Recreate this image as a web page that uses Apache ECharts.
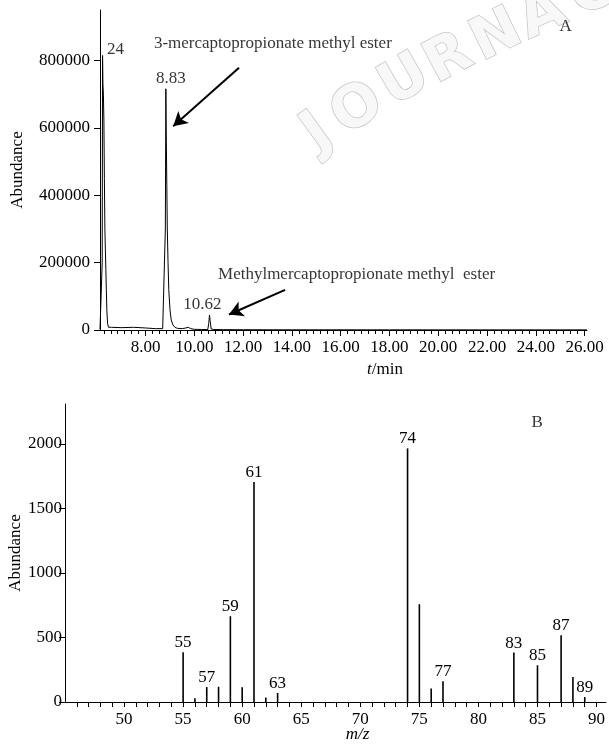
<!DOCTYPE html>
<html>
<head>
<meta charset="utf-8">
<script src="https://cdn.jsdelivr.net/npm/echarts@6/dist/echarts.min.js"></script>
<style>
html, body { margin: 0; padding: 0; background: #fff; }
#main { width: 609px; height: 746px; }
</style>
</head>
<body>
<div id="main"></div>
<script>
// chromatogram (A): retention time / abundance
var rtTime = [6.13, 6.20, 6.22, 6.235, 6.25, 6.27, 6.29, 6.31, 6.33, 6.35, 6.37, 6.39, 6.41, 6.44, 6.48,
	6.6, 7.0, 7.5, 8.0, 8.4, 8.7, 8.78, 8.81, 8.83, 8.85, 8.87, 8.89, 8.92, 8.95, 9.0, 9.05, 9.12, 9.2, 9.3,
	9.5, 9.65, 9.75, 9.85, 10.0, 10.3, 10.55, 10.59, 10.62, 10.65, 10.69, 10.8, 11.2, 12, 14, 18, 22, 26.1];
var rtAbund = [2000, 5000, 200000, 815000, 730000, 700000, 620000, 450000, 300000, 240000, 180000, 120000, 60000, 20000, 8000,
	8000, 7000, 8000, 6000, 4000, 4000, 8000, 300000, 716000, 560000, 430000, 300000, 200000, 120000, 60000, 30000, 15000, 8000, 5000,
	4000, 6000, 8000, 4000, 2000, 1500, 1500, 20000, 44600, 25000, 3000, 1500, 1000, 800, 600, 500, 400, 400];

// mass spectrum (B)
var mzValues = [55, 56, 57, 58, 59, 60, 61, 62, 63, 74, 75, 76, 77, 83, 85, 87, 88, 89];
var mzAbund = [385, 30, 116, 118, 665, 115, 1705, 35, 70, 1966, 758, 104, 160, 383, 285, 518, 194, 39];
var mzLabeled = [55, 57, 59, 61, 63, 74, 77, 83, 85, 87, 89];

// tick labels
var rtTicks = [8, 10, 12, 14, 16, 18, 20, 22, 24, 26];
var abTicksA = [0, 200000, 400000, 600000, 800000];
var mzTicks = [50, 55, 60, 65, 70, 75, 80, 85, 90];
var abTicksB = [0, 500, 1000, 1500, 2000];

var font = 'Liberation Serif';
var ink = '#000';

var rtMinor = [];
for (var k = 1; k < 7; k++) rtMinor.push(8 - k * 2 / 7);
rtTicks.slice(0, -1).forEach(function (t) {
	for (var k = 1; k < 7; k++) rtMinor.push(t + k * 2 / 7);
});
rtMinor = rtMinor.filter(function (t) { return t > 6.13; });
var mzMinor = [];
for (var m = 46; m <= 90; m++) mzMinor.push(m);

var lineData = rtTime.map(function (t, i) { return [t, rtAbund[i]]; });
var barData = mzValues.map(function (m, i) {
	return {
		value: [m, mzAbund[i]],
		label: { show: mzLabeled.indexOf(m) >= 0 }
	};
});

var notesA = [
	{ name: '24', value: [6.77, 832000], label: { position: 'inside' } },
	{ name: '8.83', value: [9.04, 745900], label: { position: 'inside' } },
	{ name: '3-mercaptopropionate methyl ester', value: [8.34, 850000], label: { position: 'right', distance: 0 } },
	{ name: '10.62', value: [10.33, 74300], label: { position: 'inside' } },
	{ name: 'Methylmercaptopropionate methyl  ester', value: [10.97, 163400], label: { position: 'right', distance: 0 } },
	{ name: 'A', value: [25.22, 901300], label: { position: 'inside' } }
];
var notesB = [
	{ name: 'B', value: [84.97, 2164], label: { position: 'inside' } }
];

var txt = { fontFamily: font, fontSize: 17, color: ink };
var plain = function (v) { return String(v); };

// watermark letters
var wmLetters = ['J', 'O', 'U', 'R', 'N', 'A', 'C'];
var wmX = [318, 358, 405, 449, 497, 543, 592];
var wmY = [134, 110, 82, 60, 37, 16, -6];
var wmRot = [36, 33, 30, 28, 26, 24, 22];
var graphics = wmLetters.map(function (c, i) {
	return {
		type: 'text',
		x: wmX[i],
		y: wmY[i],
		rotation: wmRot[i] * Math.PI / 180,
		z: -10,
		silent: true,
		style: {
			text: c,
			fontFamily: 'DejaVu Sans',
			fontWeight: 'bold',
			fontSize: 58,
			fill: '#f8f8f8',
			stroke: '#c4c4c4',
			lineWidth: 1.5,
			align: 'center',
			verticalAlign: 'middle',
			shadowBlur: 3,
			shadowColor: 'rgba(0,0,0,0.18)',
			shadowOffsetX: 1,
			shadowOffsetY: 2
		}
	};
});

var myChart = echarts.init(document.getElementById('main'));
var option = {
	animation: false,
	backgroundColor: '#fff',
	textStyle: { fontFamily: font },
	graphic: graphics,
	grid: [
		{ left: 100, right: 22, top: 10, height: 320, outerBoundsMode: 'none', containLabel: false },
		{ left: 65, right: 3, top: 404, height: 298, outerBoundsMode: 'none', containLabel: false }
	],
	xAxis: [{
		type: 'value',
		gridIndex: 0,
		min: 6.13,
		max: 26.1,
		position: 'bottom',
		name: '{i|t}/min',
		nameLocation: 'middle',
		nameGap: 31,
		nameMoveOverlap: false,
		nameTextStyle: {
			fontFamily: font, fontSize: 17, color: ink, padding: [0, 0, 0, 83],
			rich: { i: { fontFamily: font, fontSize: 17, fontStyle: 'italic', color: ink } }
		},
		axisLine: { lineStyle: { color: ink, width: 1 } },
		axisTick: { customValues: rtTicks, length: 6, lineStyle: { color: ink } },
		axisLabel: {
			customValues: rtTicks, margin: 9, fontFamily: font, fontSize: 17, color: ink,
			formatter: function (v) { return v.toFixed(2); }
		},
		splitLine: { show: false }
	}, {
		type: 'value',
		gridIndex: 0,
		min: 6.13,
		max: 26.1,
		position: 'bottom',
		offset: 0,
		axisLine: { show: false },
		axisTick: { customValues: rtMinor, length: 4, lineStyle: { color: ink } },
		axisLabel: { show: false },
		splitLine: { show: false }
	}, {
		type: 'value',
		gridIndex: 1,
		min: 45,
		max: 90.8,
		position: 'bottom',
		name: '{i|m/z}',
		nameLocation: 'middle',
		nameGap: 24,
		nameMoveOverlap: false,
		nameTextStyle: {
			fontFamily: font, fontSize: 17, color: ink, padding: [0, 0, 0, 44],
			rich: { i: { fontFamily: font, fontSize: 17, fontStyle: 'italic', color: ink } }
		},
		axisLine: { lineStyle: { color: ink, width: 1 } },
		axisTick: { customValues: mzMinor, length: 5, lineStyle: { color: ink } },
		axisLabel: { customValues: mzTicks, margin: 9, fontFamily: font, fontSize: 17, color: ink, formatter: plain },
		splitLine: { show: false }
	}],
	yAxis: [{
		type: 'value',
		gridIndex: 0,
		min: 0,
		max: 950000,
		name: 'Abundance',
		nameLocation: 'middle',
		nameGap: 74,
		nameMoveOverlap: false,
		nameTextStyle: txt,
		axisLine: { show: true, lineStyle: { color: ink, width: 1 } },
		axisTick: { show: true, customValues: abTicksA, length: 6, lineStyle: { color: ink } },
		axisLabel: { customValues: abTicksA, margin: 10, fontFamily: font, fontSize: 17, color: ink, formatter: plain },
		splitLine: { show: false }
	}, {
		type: 'value',
		gridIndex: 1,
		min: 0,
		max: 2310,
		name: 'Abundance',
		nameLocation: 'middle',
		nameGap: 41,
		nameMoveOverlap: false,
		nameTextStyle: txt,
		axisLine: { show: true, lineStyle: { color: ink, width: 1 } },
		axisTick: { show: true, customValues: abTicksB, length: 6, lineStyle: { color: ink } },
		axisLabel: { customValues: abTicksB, margin: 3, fontFamily: font, fontSize: 17, color: ink, formatter: plain },
		splitLine: { show: false }
	}],
	series: [{
		name: 'TIC',
		type: 'line',
		xAxisIndex: 0,
		yAxisIndex: 0,
		data: lineData,
		showSymbol: false,
		symbol: 'none',
		lineStyle: { color: ink, width: 1 },
		markLine: {
			silent: true,
			symbol: ['none', 'arrow'],
			symbolSize: [12, 14],
			label: { show: false },
			lineStyle: { color: ink, width: 2, type: 'solid' },
			data: [
				[{ coord: [11.83, 778600] }, { coord: [9.13, 605000] }],
				[{ coord: [13.72, 118900] }, { coord: [11.42, 46100] }]
			]
		}
	}, {
		name: 'MS',
		type: 'bar',
		xAxisIndex: 2,
		yAxisIndex: 1,
		data: barData,
		barWidth: 1.6,
		itemStyle: { color: ink },
		label: { position: 'top', distance: 1, fontFamily: font, fontSize: 17, color: ink, formatter: function (p) { return p.value[0]; } }
	}, {
		name: 'notesA',
		type: 'scatter',
		xAxisIndex: 0,
		yAxisIndex: 0,
		symbolSize: 0,
		silent: true,
		data: notesA,
		label: { show: true, fontFamily: font, fontSize: 17, color: ink, formatter: '{b}' }
	}, {
		name: 'notesB',
		type: 'scatter',
		xAxisIndex: 2,
		yAxisIndex: 1,
		symbolSize: 0,
		silent: true,
		data: notesB,
		label: { show: true, fontFamily: font, fontSize: 17, color: ink, formatter: '{b}' }
	}]
};
myChart.setOption(option);
</script>
</body>
</html>
